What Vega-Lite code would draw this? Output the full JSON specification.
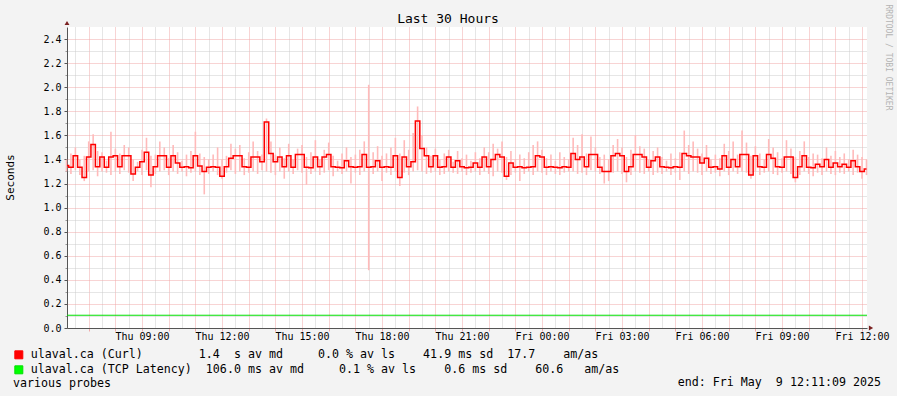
{
"$schema":"https://vega.github.io/schema/vega-lite/v6.json",
"width":800,"height":301,
"autosize":{"type":"none"},
"padding":{"left":67,"top":27,"right":30,"bottom":68},
"background":"#f3f3f3",
"config":{"view":{"fill":"white","stroke":null}},
"title":{"text":"Last 30 Hours","font":"DejaVu Sans Mono","fontSize":13,"fontWeight":"normal","color":"black","anchor":"middle","frame":"group","dx":-19,"dy":26,"offset":4},
"datasets":{
"curl":[
{"min":370,"m":1.35,"lo":1.30,"hi":1.40},
{"min":380,"m":1.335,"lo":1.28,"hi":1.45},
{"min":390,"m":1.43,"lo":1.31,"hi":1.50},
{"min":400,"m":1.335,"lo":1.27,"hi":1.40},
{"min":410,"m":1.25,"lo":1.22,"hi":1.43},
{"min":420,"m":1.42,"lo":1.30,"hi":1.55},
{"min":430,"m":1.525,"lo":1.31,"hi":1.61},
{"min":440,"m":1.34,"lo":1.26,"hi":1.47},
{"min":450,"m":1.42,"lo":1.30,"hi":1.46},
{"min":460,"m":1.335,"lo":1.29,"hi":1.39},
{"min":470,"m":1.42,"lo":1.27,"hi":1.63},
{"min":480,"m":1.43,"lo":1.30,"hi":1.49},
{"min":490,"m":1.34,"lo":1.28,"hi":1.45},
{"min":500,"m":1.43,"lo":1.31,"hi":1.52},
{"min":510,"m":1.43,"lo":1.29,"hi":1.50},
{"min":520,"m":1.28,"lo":1.22,"hi":1.40},
{"min":530,"m":1.335,"lo":1.30,"hi":1.38},
{"min":540,"m":1.38,"lo":1.27,"hi":1.48},
{"min":550,"m":1.46,"lo":1.31,"hi":1.58},
{"min":560,"m":1.27,"lo":1.17,"hi":1.43},
{"min":570,"m":1.34,"lo":1.28,"hi":1.44},
{"min":580,"m":1.43,"lo":1.30,"hi":1.55},
{"min":590,"m":1.43,"lo":1.31,"hi":1.50},
{"min":600,"m":1.335,"lo":1.27,"hi":1.41},
{"min":610,"m":1.43,"lo":1.30,"hi":1.52},
{"min":620,"m":1.37,"lo":1.28,"hi":1.46},
{"min":630,"m":1.335,"lo":1.30,"hi":1.39},
{"min":640,"m":1.34,"lo":1.26,"hi":1.44},
{"min":650,"m":1.33,"lo":1.29,"hi":1.47},
{"min":660,"m":1.43,"lo":1.30,"hi":1.63},
{"min":670,"m":1.345,"lo":1.27,"hi":1.45},
{"min":680,"m":1.30,"lo":1.11,"hi":1.42},
{"min":690,"m":1.335,"lo":1.28,"hi":1.40},
{"min":700,"m":1.34,"lo":1.30,"hi":1.44},
{"min":710,"m":1.335,"lo":1.27,"hi":1.50},
{"min":720,"m":1.26,"lo":1.24,"hi":1.40},
{"min":730,"m":1.34,"lo":1.29,"hi":1.43},
{"min":740,"m":1.41,"lo":1.31,"hi":1.53},
{"min":750,"m":1.43,"lo":1.28,"hi":1.49},
{"min":760,"m":1.43,"lo":1.30,"hi":1.52},
{"min":770,"m":1.34,"lo":1.27,"hi":1.41},
{"min":780,"m":1.335,"lo":1.29,"hi":1.46},
{"min":790,"m":1.42,"lo":1.30,"hi":1.55},
{"min":800,"m":1.42,"lo":1.28,"hi":1.47},
{"min":810,"m":1.38,"lo":1.31,"hi":1.44},
{"min":820,"m":1.71,"lo":1.30,"hi":1.74},
{"min":830,"m":1.45,"lo":1.29,"hi":1.55},
{"min":840,"m":1.38,"lo":1.27,"hi":1.44},
{"min":850,"m":1.42,"lo":1.30,"hi":1.50},
{"min":860,"m":1.34,"lo":1.24,"hi":1.41},
{"min":870,"m":1.43,"lo":1.30,"hi":1.53},
{"min":880,"m":1.335,"lo":1.28,"hi":1.40},
{"min":890,"m":1.44,"lo":1.31,"hi":1.49},
{"min":900,"m":1.44,"lo":1.29,"hi":1.52},
{"min":910,"m":1.335,"lo":1.19,"hi":1.42},
{"min":920,"m":1.33,"lo":1.28,"hi":1.46},
{"min":930,"m":1.42,"lo":1.30,"hi":1.56},
{"min":940,"m":1.34,"lo":1.27,"hi":1.40},
{"min":950,"m":1.42,"lo":1.29,"hi":1.48},
{"min":960,"m":1.44,"lo":1.31,"hi":1.54},
{"min":970,"m":1.34,"lo":1.26,"hi":1.43},
{"min":980,"m":1.335,"lo":1.30,"hi":1.39},
{"min":990,"m":1.33,"lo":1.28,"hi":1.45},
{"min":1000,"m":1.39,"lo":1.30,"hi":1.50},
{"min":1010,"m":1.34,"lo":1.20,"hi":1.42},
{"min":1020,"m":1.335,"lo":1.29,"hi":1.44},
{"min":1030,"m":1.34,"lo":1.27,"hi":1.48},
{"min":1040,"m":1.44,"lo":1.30,"hi":1.55},
{"min":1050,"m":1.335,"lo":0.48,"hi":2.02},
{"min":1060,"m":1.34,"lo":1.28,"hi":1.46},
{"min":1070,"m":1.39,"lo":1.30,"hi":1.51},
{"min":1080,"m":1.335,"lo":1.22,"hi":1.43},
{"min":1090,"m":1.34,"lo":1.29,"hi":1.45},
{"min":1100,"m":1.335,"lo":1.27,"hi":1.50},
{"min":1110,"m":1.43,"lo":1.30,"hi":1.58},
{"min":1120,"m":1.25,"lo":1.18,"hi":1.45},
{"min":1130,"m":1.42,"lo":1.29,"hi":1.56},
{"min":1140,"m":1.34,"lo":1.27,"hi":1.48},
{"min":1150,"m":1.38,"lo":1.30,"hi":1.62},
{"min":1160,"m":1.72,"lo":1.31,"hi":1.84},
{"min":1170,"m":1.49,"lo":1.30,"hi":1.60},
{"min":1180,"m":1.43,"lo":1.28,"hi":1.50},
{"min":1190,"m":1.34,"lo":1.29,"hi":1.43},
{"min":1200,"m":1.43,"lo":1.30,"hi":1.49},
{"min":1210,"m":1.335,"lo":1.27,"hi":1.40},
{"min":1220,"m":1.34,"lo":1.28,"hi":1.45},
{"min":1230,"m":1.42,"lo":1.30,"hi":1.48},
{"min":1240,"m":1.335,"lo":1.29,"hi":1.38},
{"min":1250,"m":1.39,"lo":1.28,"hi":1.47},
{"min":1260,"m":1.34,"lo":1.30,"hi":1.41},
{"min":1270,"m":1.33,"lo":1.27,"hi":1.44},
{"min":1280,"m":1.335,"lo":1.29,"hi":1.39},
{"min":1290,"m":1.37,"lo":1.30,"hi":1.46},
{"min":1300,"m":1.335,"lo":1.27,"hi":1.41},
{"min":1310,"m":1.42,"lo":1.30,"hi":1.50},
{"min":1320,"m":1.34,"lo":1.28,"hi":1.46},
{"min":1330,"m":1.40,"lo":1.26,"hi":1.53},
{"min":1340,"m":1.44,"lo":1.30,"hi":1.49},
{"min":1350,"m":1.42,"lo":1.29,"hi":1.55},
{"min":1360,"m":1.26,"lo":1.23,"hi":1.42},
{"min":1370,"m":1.37,"lo":1.27,"hi":1.47},
{"min":1380,"m":1.335,"lo":1.29,"hi":1.40},
{"min":1390,"m":1.34,"lo":1.22,"hi":1.44},
{"min":1400,"m":1.33,"lo":1.28,"hi":1.41},
{"min":1410,"m":1.335,"lo":1.30,"hi":1.46},
{"min":1420,"m":1.34,"lo":1.27,"hi":1.52},
{"min":1430,"m":1.43,"lo":1.30,"hi":1.55},
{"min":1440,"m":1.42,"lo":1.29,"hi":1.48},
{"min":1450,"m":1.335,"lo":1.27,"hi":1.41},
{"min":1460,"m":1.34,"lo":1.30,"hi":1.44},
{"min":1470,"m":1.335,"lo":1.28,"hi":1.39},
{"min":1480,"m":1.33,"lo":1.27,"hi":1.46},
{"min":1490,"m":1.34,"lo":1.29,"hi":1.42},
{"min":1500,"m":1.335,"lo":1.30,"hi":1.40},
{"min":1510,"m":1.45,"lo":1.30,"hi":1.58},
{"min":1520,"m":1.40,"lo":1.28,"hi":1.52},
{"min":1530,"m":1.42,"lo":1.29,"hi":1.61},
{"min":1540,"m":1.34,"lo":1.27,"hi":1.45},
{"min":1550,"m":1.44,"lo":1.31,"hi":1.59},
{"min":1560,"m":1.44,"lo":1.30,"hi":1.50},
{"min":1570,"m":1.335,"lo":1.28,"hi":1.42},
{"min":1580,"m":1.30,"lo":1.20,"hi":1.44},
{"min":1590,"m":1.30,"lo":1.22,"hi":1.40},
{"min":1600,"m":1.43,"lo":1.29,"hi":1.52},
{"min":1610,"m":1.45,"lo":1.30,"hi":1.57},
{"min":1620,"m":1.43,"lo":1.28,"hi":1.50},
{"min":1630,"m":1.30,"lo":1.21,"hi":1.42},
{"min":1640,"m":1.34,"lo":1.27,"hi":1.48},
{"min":1650,"m":1.44,"lo":1.30,"hi":1.60},
{"min":1660,"m":1.44,"lo":1.29,"hi":1.51},
{"min":1670,"m":1.42,"lo":1.28,"hi":1.49},
{"min":1680,"m":1.335,"lo":1.30,"hi":1.40},
{"min":1690,"m":1.39,"lo":1.27,"hi":1.47},
{"min":1700,"m":1.42,"lo":1.29,"hi":1.50},
{"min":1710,"m":1.34,"lo":1.28,"hi":1.42},
{"min":1720,"m":1.335,"lo":1.30,"hi":1.39},
{"min":1730,"m":1.33,"lo":1.27,"hi":1.45},
{"min":1740,"m":1.34,"lo":1.29,"hi":1.41},
{"min":1750,"m":1.335,"lo":1.23,"hi":1.46},
{"min":1760,"m":1.45,"lo":1.30,"hi":1.64},
{"min":1770,"m":1.43,"lo":1.28,"hi":1.52},
{"min":1780,"m":1.42,"lo":1.30,"hi":1.55},
{"min":1790,"m":1.42,"lo":1.29,"hi":1.49},
{"min":1800,"m":1.37,"lo":1.27,"hi":1.45},
{"min":1810,"m":1.41,"lo":1.30,"hi":1.52},
{"min":1820,"m":1.335,"lo":1.28,"hi":1.40},
{"min":1830,"m":1.34,"lo":1.29,"hi":1.44},
{"min":1840,"m":1.32,"lo":1.26,"hi":1.41},
{"min":1850,"m":1.43,"lo":1.30,"hi":1.53},
{"min":1860,"m":1.335,"lo":1.27,"hi":1.47},
{"min":1870,"m":1.40,"lo":1.30,"hi":1.55},
{"min":1880,"m":1.34,"lo":1.28,"hi":1.44},
{"min":1890,"m":1.44,"lo":1.30,"hi":1.64},
{"min":1900,"m":1.44,"lo":1.29,"hi":1.54},
{"min":1910,"m":1.27,"lo":1.24,"hi":1.43},
{"min":1920,"m":1.43,"lo":1.30,"hi":1.51},
{"min":1930,"m":1.34,"lo":1.27,"hi":1.45},
{"min":1940,"m":1.335,"lo":1.29,"hi":1.40},
{"min":1950,"m":1.44,"lo":1.30,"hi":1.57},
{"min":1960,"m":1.41,"lo":1.28,"hi":1.50},
{"min":1970,"m":1.34,"lo":1.27,"hi":1.46},
{"min":1980,"m":1.335,"lo":1.29,"hi":1.41},
{"min":1990,"m":1.42,"lo":1.30,"hi":1.56},
{"min":2000,"m":1.42,"lo":1.28,"hi":1.49},
{"min":2010,"m":1.25,"lo":1.21,"hi":1.42},
{"min":2020,"m":1.34,"lo":1.27,"hi":1.47},
{"min":2030,"m":1.43,"lo":1.30,"hi":1.55},
{"min":2040,"m":1.335,"lo":1.28,"hi":1.42},
{"min":2050,"m":1.33,"lo":1.26,"hi":1.45},
{"min":2060,"m":1.36,"lo":1.29,"hi":1.44},
{"min":2070,"m":1.34,"lo":1.27,"hi":1.41},
{"min":2080,"m":1.40,"lo":1.30,"hi":1.50},
{"min":2090,"m":1.335,"lo":1.28,"hi":1.43},
{"min":2100,"m":1.37,"lo":1.27,"hi":1.47},
{"min":2110,"m":1.34,"lo":1.29,"hi":1.42},
{"min":2120,"m":1.36,"lo":1.28,"hi":1.45},
{"min":2130,"m":1.335,"lo":1.30,"hi":1.40},
{"min":2140,"m":1.39,"lo":1.27,"hi":1.48},
{"min":2150,"m":1.34,"lo":1.29,"hi":1.44},
{"min":2160,"m":1.30,"lo":1.24,"hi":1.42},
{"min":2170,"m":1.32,"lo":1.27,"hi":1.40}
],
"tcp":[
{"min":370,"v":0.106},
{"min":2180,"v":0.106}
]
},
"resolve":{"axis":{"x":"independent","y":"independent"}},
"layer":[
{"data":{"name":"curl"},
 "mark":{"type":"rule","color":"#ffbaba","strokeWidth":1.6},
 "encoding":{
  "x":{"field":"min","type":"quantitative",
   "scale":{"domain":[371.15,2171.15],"nice":false,"zero":false},
   "axis":{"orient":"bottom","grid":true,"gridColor":"#cccccc","gridDash":[1,1],"values":[390,450,510,570,630,690,750,810,870,930,990,1050,1110,1170,1230,1290,1350,1410,1470,1530,1590,1650,1710,1770,1830,1890,1950,2010,2070,2130],"labels":false,"ticks":false,"domain":false,"title":null}},
  "y":{"field":"lo","type":"quantitative","scale":{"domain":[0,2.5],"nice":false,"zero":false},
   "axis":{"orient":"left","grid":true,"gridColor":"#cccccc","gridDash":[1,1],"values":[0.1,0.3,0.5,0.7,0.9,1.1,1.3,1.5,1.7,1.9,2.1,2.3],"labels":false,"ticks":true,"tickSize":2,"tickColor":"#999999","domain":false,"title":null}},
  "y2":{"field":"hi"}
 }},
{"data":{"name":"curl"},
 "mark":{"type":"line","interpolate":"step","strokeWidth":1.5,"clip":true},
 "encoding":{
  "x":{"field":"min","type":"quantitative",
   "axis":{"orient":"bottom","grid":true,"gridColor":"#f0a8a8","gridDash":[1,1],"values":[420,480,540,600,660,720,780,840,900,960,1020,1080,1140,1200,1260,1320,1380,1440,1500,1560,1620,1680,1740,1800,1860,1920,1980,2040,2100,2160],"labels":false,"ticks":true,"tickSize":3,"tickColor":"#f0a8a8","domain":false,"title":null}},
  "y":{"field":"m","type":"quantitative",
   "axis":{"orient":"left","grid":true,"gridColor":"#f0a8a8","gridDash":[1,1],"values":[0,0.2,0.4,0.6,0.8,1.0,1.2,1.4,1.6,1.8,2.0,2.2,2.4],"format":".1f","labels":true,"labelFont":"DejaVu Sans Mono","labelFontSize":10,"labelColor":"black","labelPadding":3,"ticks":true,"tickSize":3,"tickColor":"#555555","domain":true,"domainColor":"#555555","title":"Seconds","titleFont":"DejaVu Sans Mono","titleFontSize":11,"titleFontWeight":"normal","titleColor":"black","titleX":-57,"titleY":150,"titleAngle":-90,"titleAlign":"center","titleBaseline":"middle"}},
  "color":{"datum":"curl","scale":{"domain":["curl","tcp"],"range":["#ff0000","#00e000"]},
   "legend":{"orient":"none","legendX":-54,"legendY":322,"direction":"vertical","padding":0,"offset":0,
    "title":"various probes","titleOrient":"bottom","titleAnchor":"start","titleFont":"DejaVu Sans Mono","titleFontSize":11.65,"titleFontWeight":"normal","titleColor":"black","titlePadding":2,
    "labelFont":"DejaVu Sans Mono","labelFontSize":11.65,"labelColor":"black","labelOffset":6,"labelLimit":0,"rowPadding":2,
    "symbolType":"square","symbolSize":64,"symbolStrokeColor":"black","symbolStrokeWidth":1,
    "encode":{"symbols":{"update":{"fill":[{"test":"datum.value == 'curl'","value":"#ff0000"},{"value":"#00ff00"}],"stroke":{"value":"black"},"strokeWidth":{"value":1},"fillOpacity":{"value":1}}}},
    "labelExpr":"datum.value == 'curl' ? 'ulaval.ca (Curl)\u00a0\u00a0\u00a0\u00a0\u00a0\u00a0\u00a0\u00a01.4\u00a0\u00a0s av md\u00a0\u00a0\u00a0\u00a0\u00a00.0 % av ls\u00a0\u00a0\u00a0\u00a041.9 ms sd\u00a0\u00a017.7\u00a0\u00a0\u00a0\u00a0am/as' : 'ulaval.ca (TCP Latency)\u00a0\u00a0106.0 ms av md\u00a0\u00a0\u00a0\u00a0\u00a00.1 % av ls\u00a0\u00a0\u00a0\u00a00.6 ms sd\u00a0\u00a0\u00a0\u00a060.6\u00a0\u00a0\u00a0am/as'"}}
 }},
{"data":{"name":"tcp"},
 "mark":{"type":"line","strokeWidth":1,"clip":true},
 "encoding":{
  "x":{"field":"min","type":"quantitative",
   "axis":{"orient":"bottom","grid":false,"values":[540,720,900,1080,1260,1440,1620,1800,1980,2160],
    "labelExpr":"(datum.value < 1440 ? 'Thu ' : 'Fri ') + (floor((datum.value % 1440) / 60) < 10 ? '0' : '') + floor((datum.value % 1440) / 60) + ':00'",
    "labels":true,"labelFont":"DejaVu Sans Mono","labelFontSize":10,"labelColor":"black","labelPadding":3,"labelFlush":false,"labelOverlap":false,"ticks":false,"domain":true,"domainColor":"#555555",
    "title":"end: Fri May\u00a0\u00a09 12:11:09 2025","titleFont":"DejaVu Sans Mono","titleFontSize":11.65,"titleFontWeight":"normal","titleColor":"black","titleX":813.5,"titleY":54,"titleAlign":"right","titleBaseline":"middle","titleAngle":0}},
  "y":{"field":"v","type":"quantitative",
   "axis":{"orient":"right","grid":false,"labels":false,"ticks":false,"domain":false,
    "title":"RRDTOOL / TOBI OETIKER","titleFont":"DejaVu Sans Mono","titleFontSize":8,"titleFontWeight":"normal","titleColor":"#b4b4b4","titleAngle":90,"titleX":20,"titleY":30,"titleAlign":"center","titleBaseline":"middle"}},
  "color":{"datum":"tcp"}
 }},
{"data":{"values":[{}]},
 "mark":{"type":"point","shape":"triangle-right","filled":true,"color":"#7a2020","size":24,"xOffset":4,"opacity":1},
 "encoding":{
  "x":{"datum":2171.15,"type":"quantitative","axis":null},
  "y":{"datum":0,"type":"quantitative","axis":null}
 }},
{"data":{"values":[{}]},
 "mark":{"type":"point","shape":"triangle-up","filled":true,"color":"#7a2020","size":24,"yOffset":-4,"opacity":1},
 "encoding":{
  "x":{"datum":371.15,"type":"quantitative","axis":null},
  "y":{"datum":2.5,"type":"quantitative","axis":null}
 }}
]
}
